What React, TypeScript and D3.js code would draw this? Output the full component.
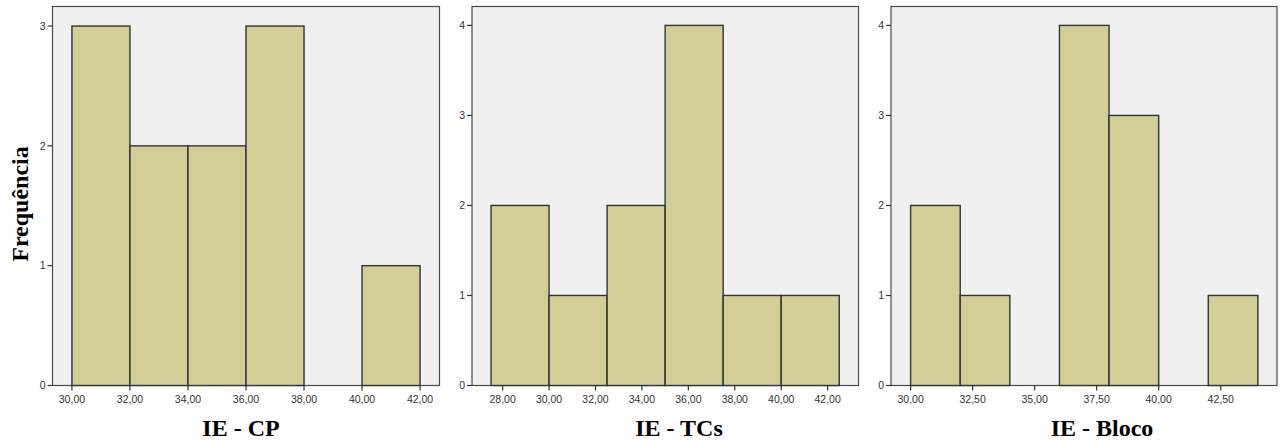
import React from "react";
import * as d3 from "d3";

// ---- Data ----
const cpBinEdges = [30, 32, 34, 36, 38, 40, 42];
const cpCounts = [3, 2, 2, 3, 0, 1];
const cpTicks = [30, 32, 34, 36, 38, 40, 42];

const tcBinEdges = [27.5, 30, 32.5, 35, 37.5, 40, 42.5];
const tcCounts = [2, 1, 2, 4, 1, 1];
const tcTicks = [28, 30, 32, 34, 36, 38, 40, 42];

const blocoBinEdges = [30, 32, 34, 36, 38, 40, 42, 44];
const blocoCounts = [2, 1, 0, 4, 3, 0, 1];
const blocoTicks = [30, 32.5, 35, 37.5, 40, 42.5];

const titles = ["IE - CP", "IE - TCs", "IE - Bloco"];
const yLabel = "Frequência";

// ---- Layout ----
const W = 1281;
const H = 441;
const TOP = 6.5;
const BOTTOM = 385.5;

type PanelSpec = {
  edges: number[];
  counts: number[];
  ticks: number[];
  title: string;
  x0: number;
  x1: number;
  xDomain: [number, number];
  yMax: number;
  titleX: number;
};

const panels: PanelSpec[] = [
  { edges: cpBinEdges, counts: cpCounts, ticks: cpTicks, title: titles[0], x0: 52.5, x1: 439.5, xDomain: [29.33, 42.67], yMax: 3.163, titleX: 241 },
  { edges: tcBinEdges, counts: tcCounts, ticks: tcTicks, title: titles[1], x0: 472, x1: 858.5, xDomain: [26.68, 43.33], yMax: 4.21, titleX: 679 },
  { edges: blocoBinEdges, counts: blocoCounts, ticks: blocoTicks, title: titles[2], x0: 891, x1: 1277, xDomain: [29.21, 44.77], yMax: 4.21, titleX: 1102 },
];

const fmt = (v: number) => v.toFixed(2).replace(".", ",");

function Panel({ p }: { p: PanelSpec }) {
  const x = d3.scaleLinear().domain(p.xDomain).range([p.x0, p.x1]);
  const y = d3.scaleLinear().domain([0, p.yMax]).range([BOTTOM, TOP]);
  const yTicks = d3.range(0, Math.floor(p.yMax) + 1);
  const tickFont = "'Liberation Sans', Arial, sans-serif";
  return (
    <g>
      <rect x={p.x0} y={TOP} width={p.x1 - p.x0} height={BOTTOM - TOP} fill="#f0f0f0" stroke="#4a4a4a" strokeWidth={1.2} />
      {p.counts.map((c, i) =>
        c > 0 ? (
          <rect
            key={i}
            x={x(p.edges[i])}
            y={y(c)}
            width={x(p.edges[i + 1]) - x(p.edges[i])}
            height={y(0) - y(c)}
            fill="#d3ce97"
            stroke="#333"
            strokeWidth={1.4}
          />
        ) : null
      )}
      {yTicks.map((t) => (
        <g key={"y" + t}>
          <line x1={p.x0 - 5} x2={p.x0} y1={y(t)} y2={y(t)} stroke="#333" strokeWidth={1.2} />
          <text x={p.x0 - 7} y={y(t)} dy="0.35em" textAnchor="end" fontSize={10.5} fontFamily={tickFont} fill="#333">
            {t}
          </text>
        </g>
      ))}
      {p.ticks.map((t) => (
        <g key={"x" + t}>
          <line x1={x(t)} x2={x(t)} y1={BOTTOM} y2={BOTTOM + 5} stroke="#333" strokeWidth={1.2} />
          <text x={x(t)} y={403} textAnchor="middle" fontSize={10.5} fontFamily={tickFont} fill="#333">
            {fmt(t)}
          </text>
        </g>
      ))}
      <text x={p.titleX} y={436} textAnchor="middle" fontSize={24} fontWeight="bold" fontFamily="'Liberation Serif', 'Times New Roman', serif" fill="#000">
        {p.title}
      </text>
    </g>
  );
}

export default function App() {
  return (
    <svg width={W} height={H} style={{ position: "absolute", left: 0, top: 0, background: "#fff" }}>
      <rect width={W} height={H} fill="#fff" />
      {panels.map((p, i) => (
        <Panel key={i} p={p} />
      ))}
      <text
        transform="translate(28,204) rotate(-90)"
        textAnchor="middle"
        fontSize={24}
        fontWeight="bold"
        fontFamily="'Liberation Serif', 'Times New Roman', serif"
        fill="#000"
      >
        {yLabel}
      </text>
    </svg>
  );
}
